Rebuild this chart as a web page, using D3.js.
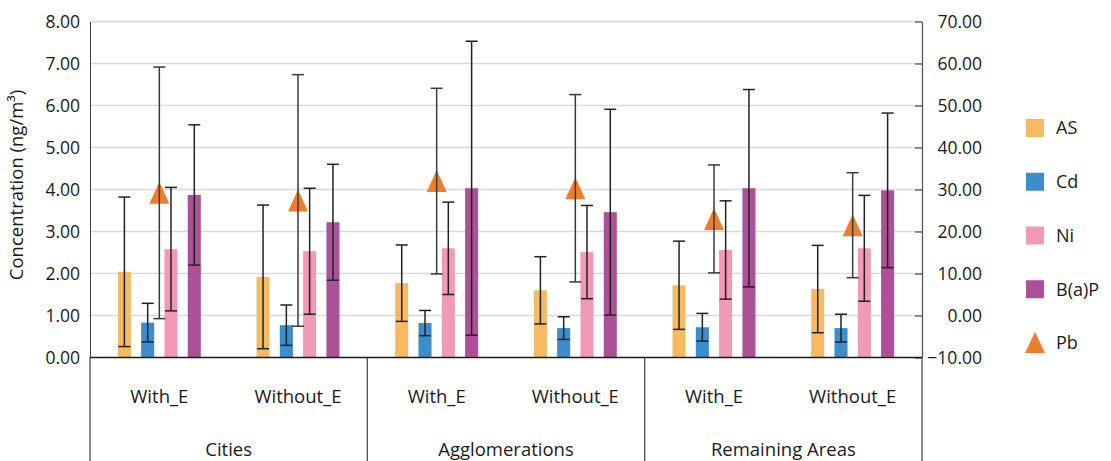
<!DOCTYPE html>
<html>
<head>
<meta charset="utf-8">
<script src="https://cdn.jsdelivr.net/npm/d3@7"></script>
<style>
  body { margin: 0; background: #fff; }
  svg { display: block; }
</style>
</head>
<body>
<div id="chart"></div>
<script>
// data (left axis for bars, right axis for Pb)
const categories = ["Cities", "Agglomerations", "Remaining Areas"];
const subCategories = ["With_E", "Without_E"];
const seriesNames = ["AS", "Cd", "Ni", "B(a)P"];
const seriesColors = ["#F5BA62", "#3D8DCC", "#F09AB6", "#AC5098"];

const asMean = [2.04, 1.92, 1.77, 1.60, 1.72, 1.63];
const asSd = [1.78, 1.71, 0.91, 0.80, 1.05, 1.04];
const cdMean = [0.83, 0.77, 0.82, 0.70, 0.72, 0.70];
const cdSd = [0.46, 0.48, 0.30, 0.27, 0.33, 0.33];
const niMean = [2.58, 2.53, 2.60, 2.51, 2.56, 2.60];
const niSd = [1.47, 1.50, 1.10, 1.11, 1.17, 1.26];
const bapMean = [3.87, 3.22, 4.03, 3.46, 4.03, 3.98];
const bapSd = [1.67, 1.38, 3.50, 2.45, 2.35, 1.84];
const pbMean = [29.2, 27.4, 32.0, 30.3, 23.0, 21.5];
const pbSd = [29.95, 29.95, 22.1, 22.3, 12.85, 12.5];

const leftTicks = [0, 1, 2, 3, 4, 5, 6, 7, 8];
const rightTicks = [-10, 0, 10, 20, 30, 40, 50, 60, 70];

const createChart = () => {
    const width = 1111, height = 461;
    const plot = { left: 90, right: 922, top: 21.5, bottom: 357.5 };
    const font = "'Open Sans', sans-serif";
    const textColor = "#1a1a1a";

    const svg = d3.select("#chart").append("svg")
        .attr("width", width)
        .attr("height", height);

    // groups = category x subcategory
    const groups = [];
    categories.forEach(c => subCategories.forEach(s => groups.push({ cat: c, sub: s, key: c + "|" + s })));

    const means = [asMean, cdMean, niMean, bapMean];
    const sds = [asSd, cdSd, niSd, bapSd];
    const bars = [];
    groups.forEach((g, gi) => seriesNames.forEach((name, si) => {
        bars.push({ key: g.key, name, i: si, value: means[si][gi], sd: sds[si][gi] });
    }));
    const pb = groups.map((g, gi) => ({ key: g.key, value: pbMean[gi], sd: pbSd[gi] }));

    // scales
    const xGroup = d3.scaleBand()
        .domain(groups.map(g => g.key))
        .range([plot.left, plot.right]);
    const xCat = d3.scaleBand()
        .domain(categories)
        .range([plot.left, plot.right]);
    const xSeries = d3.scaleBand()
        .domain(seriesNames)
        .range([-46.6, 46.6])
        .paddingInner(0.44)
        .paddingOuter(0.22);
    const yLeft = d3.scaleLinear().domain([0, 8]).range([plot.bottom, plot.top]);
    const yRight = d3.scaleLinear().domain([-10, 70]).range([plot.bottom, plot.top]);
    const color = d3.scaleOrdinal().domain(seriesNames).range(seriesColors);

    const center = key => xGroup(key) + xGroup.bandwidth() / 2;

    // gridlines
    svg.append("g")
        .selectAll("line")
        .data(leftTicks.slice(1))
        .join("line")
        .attr("x1", plot.left)
        .attr("x2", plot.right)
        .attr("y1", d => yLeft(d))
        .attr("y2", d => yLeft(d))
        .attr("stroke", "#d9d9d9")
        .attr("stroke-width", 1.3);

    // left axis
    const leftAxis = svg.append("g")
        .attr("transform", `translate(${plot.left},0)`)
        .call(d3.axisLeft(yLeft).tickValues(leftTicks).tickFormat(d3.format(".2f")).tickSize(0).tickPadding(10));
    leftAxis.select(".domain").attr("stroke", "#404040").attr("stroke-width", 1);
    leftAxis.selectAll("text")
        .style("font-family", font)
        .style("font-size", "17.5px")
        .attr("fill", textColor);

    // right axis with inward ticks
    const rightAxis = svg.append("g")
        .attr("transform", `translate(${plot.right},0)`)
        .call(d3.axisRight(yRight).tickValues(rightTicks).tickFormat(d3.format(".2f")).tickSize(-7).tickSizeOuter(0).tickPadding(6));
    rightAxis.select(".domain").attr("stroke", "#595959").attr("stroke-width", 1.3);
    rightAxis.selectAll(".tick line").attr("stroke", "#595959").attr("stroke-width", 1.3);
    rightAxis.selectAll("text")
        .attr("x", 60)
        .style("text-anchor", "end")
        .style("font-family", font)
        .style("font-size", "17.5px")
        .attr("fill", textColor);

    // bars
    svg.append("g")
        .selectAll("rect")
        .data(bars)
        .join("rect")
        .attr("x", d => center(d.key) + xSeries(d.name))
        .attr("width", xSeries.bandwidth())
        .attr("y", d => yLeft(d.value))
        .attr("height", d => yLeft(0) - yLeft(d.value))
        .attr("fill", d => color(d.name));

    // error bars for the bars
    const capHalf = 6;
    const errBars = svg.append("g")
        .selectAll("g")
        .data(bars)
        .join("g")
        .attr("stroke", "#222")
        .attr("stroke-width", 1.5);
    const bx = d => center(d.key) + xSeries(d.name) + xSeries.bandwidth() / 2;
    errBars.append("line")
        .attr("x1", bx).attr("x2", bx)
        .attr("y1", d => yLeft(d.value + d.sd))
        .attr("y2", d => yLeft(d.value - d.sd));
    errBars.append("line")
        .attr("x1", d => bx(d) - capHalf).attr("x2", d => bx(d) + capHalf)
        .attr("y1", d => yLeft(d.value + d.sd))
        .attr("y2", d => yLeft(d.value + d.sd));
    errBars.append("line")
        .attr("x1", d => bx(d) - capHalf).attr("x2", d => bx(d) + capHalf)
        .attr("y1", d => yLeft(d.value - d.sd))
        .attr("y2", d => yLeft(d.value - d.sd));

    // Pb triangles (right axis)
    const triangle = "M0,-11L10,11L-10,11Z";
    svg.append("g")
        .selectAll("path")
        .data(pb)
        .join("path")
        .attr("d", triangle)
        .attr("transform", d => `translate(${center(d.key)},${yRight(d.value)})`)
        .attr("fill", "#EE7D30");

    const pbErr = svg.append("g")
        .selectAll("g")
        .data(pb)
        .join("g")
        .attr("stroke", "#3a3a3a")
        .attr("stroke-width", 1.5);
    pbErr.append("line")
        .attr("x1", d => center(d.key)).attr("x2", d => center(d.key))
        .attr("y1", d => yRight(d.value + d.sd))
        .attr("y2", d => yRight(d.value - d.sd));
    pbErr.append("line")
        .attr("x1", d => center(d.key) - capHalf).attr("x2", d => center(d.key) + capHalf)
        .attr("y1", d => yRight(d.value + d.sd))
        .attr("y2", d => yRight(d.value + d.sd));
    pbErr.append("line")
        .attr("x1", d => center(d.key) - capHalf).attr("x2", d => center(d.key) + capHalf)
        .attr("y1", d => yRight(d.value - d.sd))
        .attr("y2", d => yRight(d.value - d.sd));

    // bottom axis line and category separators
    svg.append("line")
        .attr("x1", plot.left).attr("x2", plot.right)
        .attr("y1", plot.bottom).attr("y2", plot.bottom)
        .attr("stroke", "#1a1a1a")
        .attr("stroke-width", 1.5);
    svg.append("g")
        .selectAll("line")
        .data(categories.concat([null]))
        .join("line")
        .attr("x1", d => d === null ? plot.right : xCat(d))
        .attr("x2", d => d === null ? plot.right : xCat(d))
        .attr("y1", plot.bottom)
        .attr("y2", height)
        .attr("stroke", "#404040")
        .attr("stroke-width", 1.2);

    // subcategory and category labels
    svg.append("g")
        .selectAll("text")
        .data(groups)
        .join("text")
        .text(d => d.sub)
        .attr("x", d => center(d.key))
        .attr("y", 403)
        .style("font-family", font)
        .style("font-size", "18.5px")
        .style("text-anchor", "middle")
        .attr("fill", textColor);
    svg.append("g")
        .selectAll("text")
        .data(categories)
        .join("text")
        .text(d => d)
        .attr("x", d => xCat(d) + xCat.bandwidth() / 2)
        .attr("y", 456)
        .style("font-family", font)
        .style("font-size", "18.5px")
        .style("text-anchor", "middle")
        .attr("fill", textColor);

    // y axis title
    svg.append("text")
        .text("Concentration (ng/m³)")
        .attr("transform", `translate(23,185) rotate(-90)`)
        .style("font-family", font)
        .style("font-size", "18.5px")
        .style("text-anchor", "middle")
        .attr("fill", textColor);

    // legend
    const legendY = d3.scalePoint()
        .domain(seriesNames.concat(["Pb"]))
        .range([128, 343]);
    const legend = svg.append("g")
        .selectAll("g")
        .data(seriesNames.concat(["Pb"]))
        .join("g")
        .attr("transform", d => `translate(1035,${legendY(d)})`);
    legend.filter(d => d !== "Pb").append("rect")
        .attr("x", -9).attr("y", -9)
        .attr("width", 18).attr("height", 18)
        .attr("fill", d => color(d));
    legend.filter(d => d === "Pb").append("path")
        .attr("d", "M0,-11L10,10L-10,10Z")
        .attr("fill", "#EE7D30");
    legend.append("text")
        .text(d => d)
        .attr("x", 21)
        .attr("dy", "0.35em")
        .style("font-family", font)
        .style("font-size", "18px")
        .attr("fill", textColor);
};

createChart();
</script>
</body>
</html>
